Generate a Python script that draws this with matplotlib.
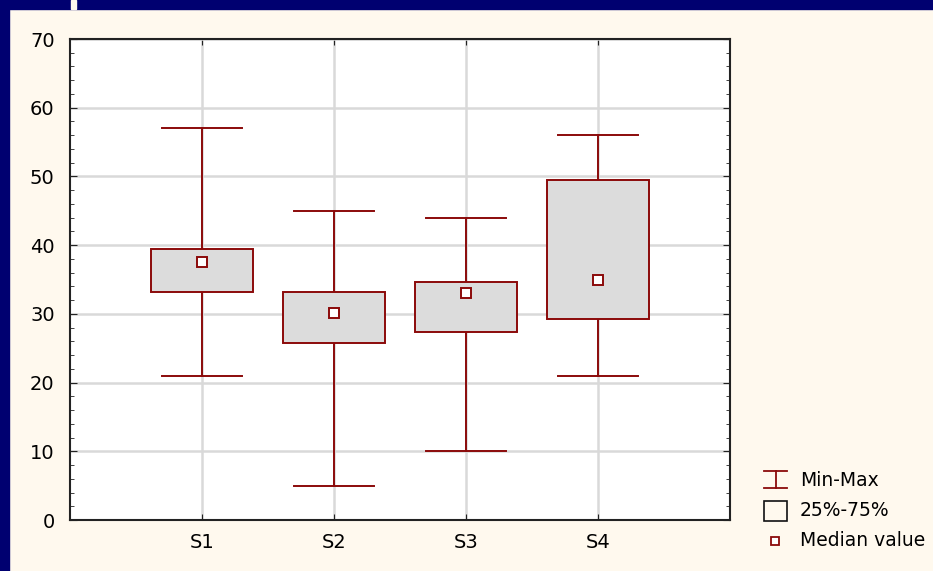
import matplotlib.pyplot as plt
from matplotlib.patches import Rectangle
from matplotlib.lines import Line2D

plt.rcParams['font.family'] = ['DejaVu Sans']

# data
groups = ['S1', 'S2', 'S3', 'S4']
mins = [21, 5, 10, 21]
q1 = [33.2, 25.8, 27.3, 29.2]
medians = [37.5, 30.1, 33.0, 35.0]
q3 = [39.5, 33.2, 34.7, 49.5]
maxs = [57, 45, 44, 56]

red = '#8B0A0A'
box_face = '#DCDCDC'
bg = '#FFF9EE'
navy = '#000070'

fig = plt.figure(figsize=(9.33, 5.71), dpi=100, facecolor=bg)

# navy frame on left and top
fig.patches.append(Rectangle((0, 0), 9 / 933, 1, transform=fig.transFigure,
                             color=navy, zorder=0))
fig.patches.append(Rectangle((0, 1 - 9 / 571), 1, 9 / 571, transform=fig.transFigure,
                             color=navy, zorder=0))
fig.patches.append(Rectangle((71 / 933, 1 - 9 / 571), 5 / 933, 9 / 571,
                             transform=fig.transFigure, color=bg, zorder=1))

ax = fig.add_axes([70 / 933, 51 / 571, 660 / 933, 481 / 571])
ax.set_facecolor('white')

pos = list(range(1, len(groups) + 1))
box_w = 0.78
cap_w = 0.6
for x, lo, a, m, b, hi in zip(pos, mins, q1, medians, q3, maxs):
    ax.plot([x, x], [lo, a], color=red, lw=1.4, zorder=3)
    ax.plot([x, x], [b, hi], color=red, lw=1.4, zorder=3)
    ax.plot([x - cap_w / 2, x + cap_w / 2], [lo, lo], color=red, lw=1.4, zorder=3)
    ax.plot([x - cap_w / 2, x + cap_w / 2], [hi, hi], color=red, lw=1.4, zorder=3)
    ax.add_patch(Rectangle((x - box_w / 2, a), box_w, b - a, facecolor=box_face,
                           edgecolor=red, lw=1.4, zorder=3))
    ax.plot(x, m, marker='s', ms=6.5, mfc='white', mec=red, mew=1.4, zorder=4)

ax.set_xlim(0, 5)
ax.set_ylim(0, 70)
ax.set_xticks(pos)
ax.set_xticklabels(groups)
ax.set_yticks(range(0, 71, 10))
ax.set_yticks(range(0, 71, 2), minor=True)
ax.grid(True, which='major', color='#D9D9D9', lw=1.8, zorder=0)
ax.set_axisbelow(True)
ax.tick_params(axis='both', which='both', direction='in', labelsize=14,
               color='#222222', right=True, top=True)
ax.tick_params(axis='y', which='major', length=5, pad=11)
ax.tick_params(axis='y', which='minor', length=3)
ax.tick_params(axis='x', which='major', length=4, pad=9)
for s in ax.spines.values():
    s.set_color('#222222')
    s.set_linewidth(1.5)

# legend drawn by hand in figure pixels
def fx(px):
    return px / 933

def fy(py):
    return 1 - py / 571

lc = dict(color=red, lw=1.3, transform=fig.transFigure)
fig.lines.append(Line2D([fx(764), fx(787)], [fy(471), fy(471)], **lc))
fig.lines.append(Line2D([fx(775.5), fx(775.5)], [fy(471), fy(488)], **lc))
fig.lines.append(Line2D([fx(764), fx(787)], [fy(488), fy(488)], **lc))
fig.patches.append(Rectangle((fx(764), fy(521)), fx(23), 20 / 571, facecolor='none',
                             edgecolor='#111111', lw=1.2, transform=fig.transFigure))
fig.lines.append(Line2D([fx(775)], [fy(541)], marker='s', ms=6, mfc='white',
                        mec=red, mew=1.3, transform=fig.transFigure))
for txt, yy in zip(['Min-Max', '25%-75%', 'Median value'], [481, 511, 541]):
    fig.text(fx(800), fy(yy), txt, fontsize=13.5, va='center', ha='left')

fig.savefig('out.png', dpi=100, facecolor=bg)
